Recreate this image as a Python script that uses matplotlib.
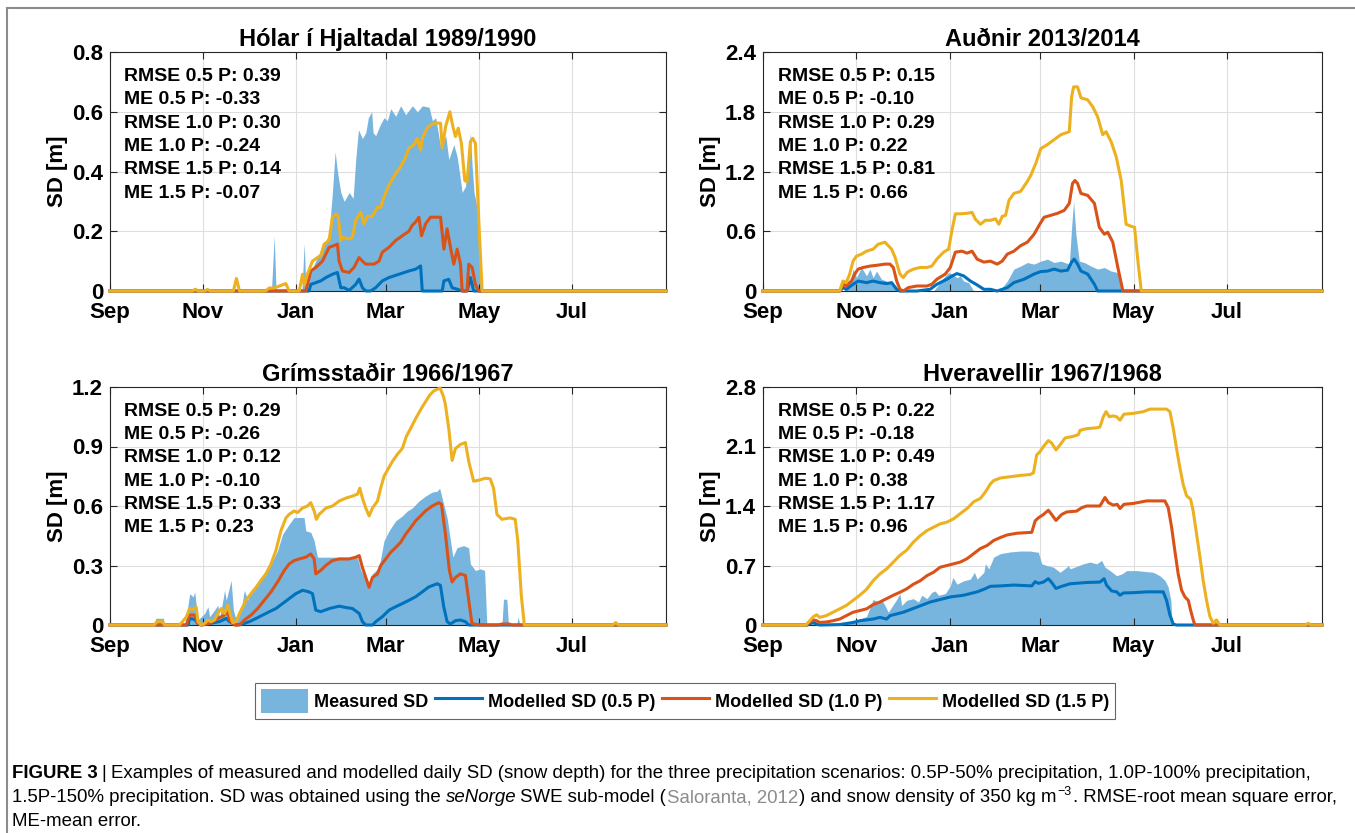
import numpy as np
import matplotlib
matplotlib.use("Agg")
import matplotlib.pyplot as plt
from matplotlib.lines import Line2D
from matplotlib.patches import Patch

plt.rcParams["font.family"] = ["Liberation Sans", "DejaVu Sans"]
plt.rcParams["font.weight"] = "bold"

W, H = 1355, 833
C_MEAS = "#77b5df"; C05 = "#0072bd"; C10 = "#d95319"; C15 = "#edb120"

# x axis = days since 1 Sep
month_days = [0, 61, 122, 181, 242, 303]
month_labels = ["Sep", "Nov", "Jan", "Mar", "May", "Jul"]

# ---------------- Hólar í Hjaltadal 1989/1990  (day, SD m)
holar_meas = [(0,0),(104,0),(106,0),(107.8,0.185),(109,0),(126,0),(127.5,0.16),(128.5,0.02),(131,0.056),
    (135,0.10),(139.5,0.146),(143.8,0.19),(146,0.33),(147.8,0.466),(149.3,0.40),(151.5,0.33),(153.7,0.30),
    (157,0.33),(159.6,0.31),(161.3,0.44),(163.1,0.54),(165.7,0.51),(167.9,0.53),(169.6,0.58),(171.8,0.60),
    (172.7,0.53),(174.4,0.52),(177.7,0.56),(179.9,0.58),(182.1,0.57),(184.3,0.61),(187.6,0.585),(190.8,0.62),
    (194.1,0.59),(198.5,0.62),(201.8,0.60),(205.1,0.62),(209.5,0.615),(211.6,0.57),(213.8,0.58),(217.1,0.48),
    (220.4,0.52),(222.4,0.44),(225.7,0.49),(227.9,0.45),(231.2,0.33),(233.4,0.35),(235.5,0.46),(236.6,0.53),
    (237.7,0.42),(239,0.33),(242.2,0.25),(243.7,0),(365,0)]
holar_05 = [(0,0),(130.7,0),(131.8,0.022),(135.1,0.028),(138.4,0.034),(141.7,0.045),(146,0.056),(149.3,0.062),
    (151.5,0.011),(153.7,0.011),(157,0.002),(161.3,0.022),(163.5,0.04),(165.7,0.011),(167.9,0),(171.1,0),
    (174.4,0.011),(178.8,0.034),(183.1,0.045),(189.7,0.056),(196.2,0.067),(200.6,0.073),(203.9,0.084),(205,0),
    (218.1,0),(219.2,0.034),(222.4,0.039),(224.6,0.011),(227.9,0.006),(231.2,0),(234.4,0),(236.6,0.045),
    (238.8,0),(365,0)]
holar_10 = [(0,0),(128.6,0),(129.6,0.022),(131.8,0.067),(135.1,0.079),(139.5,0.1),(143.8,0.146),(147.1,0.152),
    (149.3,0.157),(150.4,0.10),(152.6,0.067),(157,0.062),(160.2,0.079),(163.5,0.112),(165.7,0.1),(167.9,0.09),
    (173.3,0.09),(176.6,0.1),(178.8,0.13),(183.1,0.146),(187.5,0.169),(191.9,0.185),(196.2,0.2),(198.4,0.22),
    (200.6,0.231),(202.8,0.247),(204.5,0.185),(207.2,0.225),(210.4,0.247),(217,0.247),(219.2,0.14),
    (221.3,0.208),(223.5,0.146),(225.7,0.09),(227.9,0.14),(230.1,0.09),(231.2,0),(234.4,0),(235.5,0.09),
    (237.7,0.079),(239.9,0.022),(242.1,0),(365,0)]
holar_15 = [(0,0),(54,0),(56,0.006),(58,0),(62,0),(64,0.005),(66,0),(81,0),(83,0.042),(85,0),(102,0),
    (104.5,0.01),(107.8,0.01),(115.4,0.025),(117.6,0),(124.2,0),(126.4,0.056),(127.5,0.02),(129.6,0.056),
    (132.9,0.10),(138.4,0.12),(140.6,0.157),(143.8,0.169),(146,0.247),(148.6,0.258),(149.9,0.247),
    (151.5,0.169),(152.6,0.18),(156.9,0.174),(159.1,0.18),(161.3,0.236),(164.6,0.264),(166.8,0.225),
    (169,0.25),(172.2,0.25),(175.5,0.28),(177.7,0.28),(179.9,0.315),(183.1,0.354),(187.5,0.393),
    (190.8,0.416),(194.1,0.449),(196.2,0.478),(199.5,0.489),(201.7,0.511),(203.9,0.472),(205,0.511),
    (208.2,0.545),(210.4,0.556),(213.7,0.562),(217,0.562),(218.1,0.478),(220.3,0.55),(223.1,0.60),
    (225.1,0.55),(226.8,0.517),(228.6,0.545),(230.7,0.494),(232.9,0.37),(234.4,0.365),(236.6,0.50),
    (238.2,0.511),(239.9,0.494),(242.1,0.236),(244.3,0),(365,0)]
holar_stats = ["RMSE 0.5 P: 0.39", "ME 0.5 P: -0.33", "RMSE 1.0 P: 0.30",
               "ME 1.0 P: -0.24", "RMSE 1.5 P: 0.14", "ME 1.5 P: -0.07"]

# ---------------- Auðnir 2013/2014
audnir_meas = [(0,0),(53.3,0),(54.4,0.135),(56.6,0.067),(58.8,0.22),(61,0.135),(64.3,0.236),(67.6,0.152),
    (69.8,0.22),(71.9,0.135),(74.1,0.2),(77.4,0.118),(80.7,0.1),(85.1,0.067),(87.3,0),(111.3,0),
    (115.7,0.084),(117.9,0.135),(121.2,0.185),(123.4,0.169),(126.6,0.135),(128.8,0.152),(131,0.1),
    (134.3,0.084),(137.6,0),(155.1,0),(156.2,0.034),(159.5,0.1),(163.8,0.22),(168.2,0.25),(172.6,0.286),
    (177,0.27),(181.4,0.30),(185.7,0.32),(190.1,0.286),(194.5,0.30),(200,0.27),(201.5,0.64),(202.8,0.9),
    (204.3,0.57),(206.5,0.30),(209.8,0.286),(214.2,0.25),(218.5,0.22),(222.9,0.236),(227.3,0.2),
    (231.7,0.185),(233.9,0),(365,0)]
audnir_05 = [(0,0),(50.1,0),(52.2,0.034),(54.4,0.017),(58.8,0.067),(62.1,0.1),(67.6,0.084),(71.9,0.1),
    (76.3,0.084),(80.7,0.074),(84,0.084),(87.3,0.017),(89.4,0),(100.4,0),(109.1,0.017),(113.5,0.067),
    (120.1,0.118),(123.4,0.15),(126.6,0.175),(131,0.152),(135.4,0.1),(139.8,0.061),(144.2,0.017),
    (148.5,0.017),(152.9,0),(159.5,0.034),(163.8,0.084),(170.4,0.118),(177,0.17),(181.4,0.195),
    (185.7,0.2),(190.1,0.22),(194.5,0.2),(198.9,0.209),(201.5,0.29),(203.2,0.32),(205.4,0.27),
    (207.6,0.2),(212,0.17),(216.4,0.067),(218.5,0),(365,0)]
audnir_10 = [(0,0),(50.1,0),(52.2,0.07),(54.4,0.05),(57.7,0.1),(59.9,0.17),(62.1,0.22),(65.4,0.236),
    (69.8,0.25),(75.2,0.26),(79.6,0.27),(82.9,0.27),(85.1,0.236),(87.3,0.1),(89.4,0.017),(91.6,0),
    (94.9,0.034),(100.4,0.05),(107,0.05),(110.2,0.067),(113.5,0.118),(119,0.17),(122.3,0.236),(125.6,0.39),
    (129.9,0.40),(133.2,0.38),(136.5,0.40),(139.8,0.32),(144.2,0.29),(148.5,0.30),(152.9,0.27),(156.2,0.30),
    (159.5,0.37),(163.8,0.40),(168.2,0.455),(172.6,0.49),(177,0.57),(180.3,0.66),(183.5,0.74),(187.9,0.76),
    (192.3,0.78),(196.7,0.81),(200,0.88),(202.1,1.08),(203.7,1.11),(205.4,1.08),(207.6,0.98),(212,0.96),
    (216.4,0.88),(219.6,0.64),(222.9,0.57),(225.1,0.59),(228.4,0.49),(231.7,0.236),(235,0),(365,0)]
audnir_15 = [(0,0),(50.1,0),(52.2,0.1),(54.4,0.085),(56.6,0.17),(58.8,0.3),(61,0.35),(64.3,0.37),(67.6,0.40),
    (71.9,0.42),(75.2,0.47),(79.6,0.49),(81.8,0.455),(84,0.42),(86.2,0.34),(89.4,0.17),(91.6,0.135),
    (94.3,0.19),(98.2,0.22),(102.6,0.236),(107,0.236),(110.2,0.25),(113.5,0.32),(117.9,0.39),(121.2,0.42),
    (123.4,0.61),(125.6,0.775),(128.8,0.775),(133.2,0.78),(136.5,0.79),(138.7,0.72),(142,0.67),(145.2,0.71),
    (148.5,0.71),(151.8,0.725),(154,0.67),(156.2,0.75),(158.4,0.76),(160.6,0.91),(163.8,0.98),(168.2,1.0),
    (172.6,1.1),(174.8,1.16),(178.1,1.28),(181.4,1.43),(185.7,1.47),(190.1,1.52),(194.5,1.57),(200,1.6),
    (201.5,1.95),(202.8,2.05),(205.4,2.05),(207.6,1.94),(212,1.92),(215.3,1.85),(218.5,1.75),(221.8,1.57),
    (224,1.6),(227.3,1.5),(230.6,1.35),(233.9,1.11),(237.1,0.67),(240.4,0.65),(242.6,0.64),(244.8,0.30),
    (247,0),(365,0)]
audnir_stats = ["RMSE 0.5 P: 0.15", "ME 0.5 P: -0.10", "RMSE 1.0 P: 0.29",
                "ME 1.0 P: 0.22", "RMSE 1.5 P: 0.81", "ME 1.5 P: 0.66"]

# ---------------- Grímsstaðir 1966/1967
grims_meas = [(0,0),(29,0),(30,0.034),(35,0.034),(36,0),(49,0),(50.1,0.042),(52.3,0.158),(54.5,0.142),
    (55.6,0.167),(57.7,0.025),(59.9,0.042),(62.1,0.058),(64.3,0.092),(65.4,0.042),(68.6,0.075),(70.8,0.1),
    (71.9,0.033),(74.1,0.125),(75.2,0.175),(76.3,0.125),(78.4,0.19),(79.5,0.225),(81,0.075),(82.8,0.025),
    (86.1,0.075),(88.2,0.175),(90.4,0.125),(92.6,0.175),(94.8,0.19),(98,0.225),(102.4,0.275),(106.8,0.325),
    (110,0.375),(113.3,0.458),(117.6,0.508),(120.9,0.542),(124.2,0.542),(127.4,0.542),(128.5,0.475),
    (131.8,0.467),(134,0.425),(136.2,0.342),(139.4,0.342),(150.5,0.342),(159.2,0.342),(162.5,0.338),
    (164.7,0.275),(167.9,0.225),(170.1,0.217),(172.3,0.258),(176.6,0.29),(179.9,0.425),(183.2,0.475),
    (187.5,0.525),(191.9,0.55),(195.2,0.575),(198.4,0.59),(202.8,0.625),(207.1,0.65),(211.5,0.67),
    (214.8,0.675),(216.4,0.69),(218.5,0.625),(221.3,0.54),(225.1,0.342),(227.8,0.39),(232.1,0.4),
    (235.4,0.39),(236.6,0.308),(239.8,0.275),(243.1,0.283),(245.9,0.275),(247.4,0),(257.3,0),(258.3,0.13),
    (260.5,0.13),(261.6,0),(267,0),(268,0.04),(269,0),(365,0)]
grims_05 = [(0,0),(51.2,0),(52.3,0.033),(55.6,0.028),(57.7,0.008),(60,0),(71.9,0.017),(76.3,0.033),
    (78.4,0.017),(82.8,0),(87.1,0.005),(91.5,0.017),(95.9,0.033),(100.2,0.05),(104.6,0.067),(108.9,0.083),
    (113.3,0.108),(117.6,0.133),(122,0.158),(126.4,0.175),(130.7,0.167),(132.9,0.158),(135.1,0.075),
    (138.3,0.067),(144,0.083),(150.5,0.095),(154.9,0.088),(159.2,0.083),(163.6,0.058),(165.7,0.017),
    (167.9,0),(172.3,0),(174.5,0.017),(178.8,0.042),(183.2,0.075),(187.5,0.092),(191.9,0.108),(196.3,0.125),
    (200.6,0.142),(205,0.167),(209.3,0.192),(214.8,0.208),(216.9,0.2),(219.1,0.092),(221.3,0.017),
    (223.5,0.005),(226.8,0.022),(230,0.025),(233.3,0.017),(235.5,0),(365,0)]
grims_10 = [(0,0),(50.1,0),(52.3,0.05),(55.6,0.05),(57.7,0.008),(59.9,0),(65.4,0.008),(70.8,0.033),
    (74.1,0.045),(77.3,0.067),(78.4,0.025),(81.7,0),(85,0),(88.2,0.025),(92.6,0.05),(96.9,0.083),
    (101.3,0.125),(105.7,0.167),(110,0.217),(114.4,0.275),(117.6,0.308),(120.9,0.325),(124.2,0.333),
    (128.5,0.342),(131.8,0.358),(134,0.333),(135.1,0.258),(138.3,0.275),(141.6,0.3),(146.1,0.325),
    (150.5,0.333),(157,0.333),(161.4,0.342),(163.6,0.35),(165.7,0.29),(167.9,0.24),(170.1,0.19),
    (172.3,0.24),(175.6,0.258),(177.7,0.3),(181,0.333),(184.3,0.367),(187.5,0.39),(190.8,0.417),
    (194.1,0.458),(197.3,0.49),(200.6,0.525),(203.9,0.55),(207.1,0.575),(211.5,0.6),(215.9,0.617),
    (217.6,0.608),(220.2,0.458),(222.8,0.275),(224.6,0.217),(226.8,0.24),(230,0.258),(233.3,0.25),
    (235.5,0.125),(237.6,0.008),(242,0),(255,0),(257.3,0.005),(262,0.005),(264,0),(365,0)]
grims_15 = [(0,0),(29,0),(31,0.017),(34,0.017),(36,0),(45.7,0),(50.1,0.04),(52.3,0.083),(54.5,0.078),
    (56.6,0.09),(57.7,0.017),(59.9,0),(62.1,0.008),(64.3,0.025),(66.4,0.017),(68.6,0.025),(70.8,0.058),
    (73,0.083),(75.2,0.058),(77.3,0.1),(78.4,0.067),(80.6,0.012),(82.8,0.017),(85,0.058),(87.1,0.09),
    (89.3,0.125),(92.6,0.158),(95.9,0.19),(99.1,0.225),(102.4,0.258),(105.7,0.308),(108.9,0.375),
    (112.2,0.475),(115.5,0.54),(117.6,0.558),(120.9,0.575),(123.1,0.567),(126.4,0.59),(129.6,0.6),
    (131.8,0.617),(134,0.575),(135.5,0.533),(137.3,0.558),(141.8,0.59),(146.1,0.6),(150.5,0.625),
    (154.9,0.64),(159.2,0.65),(162.5,0.66),(164,0.69),(165.7,0.64),(167.9,0.59),(170.1,0.55),(172.3,0.59),
    (175.6,0.625),(177.7,0.69),(179.9,0.75),(182.1,0.78),(185.4,0.825),(188.6,0.86),(191.9,0.89),
    (194.5,0.95),(197.3,0.99),(200.6,1.04),(202.8,1.07),(205,1.1),(207.1,1.125),(210,1.16),(212.5,1.18),
    (216.7,1.195),(219,1.15),(220.2,1.11),(222.4,0.99),(224.6,0.83),(226.8,0.89),(230,0.91),(233.3,0.92),
    (235.5,0.825),(238.7,0.725),(242,0.73),(246.4,0.74),(249.6,0.737),(251.8,0.69),(254,0.558),
    (257.3,0.533),(262.7,0.54),(266,0.533),(267.7,0.425),(270,0.15),(272,0),(330,0),(332,0.012),(334,0),
    (365,0)]
grims_stats = ["RMSE 0.5 P: 0.29", "ME 0.5 P: -0.26", "RMSE 1.0 P: 0.12",
               "ME 1.0 P: -0.10", "RMSE 1.5 P: 0.33", "ME 1.5 P: 0.23"]

# ---------------- Hveravellir 1967/1968
hvera_meas = [(0,0),(30,0),(31,0.03),(34,0.03),(35,0),(50,0),(58.8,0.04),(67.6,0.1),(71.9,0.3),(75.2,0.27),
    (77.4,0.3),(79.6,0.23),(81.8,0.15),(84,0.21),(87.3,0.3),(89.4,0.37),(90.5,0.23),(93.8,0.29),(98.2,0.31),
    (101.5,0.27),(103.7,0.35),(107,0.31),(110.2,0.385),(112.4,0.4),(114.6,0.35),(119,0.37),(122.3,0.46),
    (124,0.56),(126.6,0.48),(131,0.52),(135.4,0.54),(138,0.62),(139.8,0.54),(144.2,0.62),(145.2,0.72),
    (147.4,0.66),(150.7,0.8),(155.1,0.84),(161.6,0.86),(168.2,0.87),(174.4,0.87),(179.8,0.855),(182,0.72),
    (185.3,0.7),(189.6,0.68),(194,0.62),(198.3,0.68),(199.4,0.7),(200.5,0.66),(204.8,0.69),(209.2,0.72),
    (213.5,0.74),(217.9,0.72),(221.1,0.76),(223.3,0.68),(226.6,0.64),(230.9,0.58),(234.2,0.6),(237.4,0.64),
    (243.9,0.64),(249.3,0.63),(254.8,0.62),(259.1,0.58),(262.4,0.525),(264.5,0.45),(266.3,0.29),(267.1,0),
    (365,0)]
hvera_05 = [(0,0),(29,0),(31,0.02),(33,0.03),(35,0.01),(37,0),(50,0.005),(58.8,0.03),(63.2,0.05),(67.6,0.06),
    (71.9,0.07),(76.3,0.09),(80.7,0.07),(82.9,0.11),(87.3,0.13),(91.6,0.15),(96,0.18),(100.4,0.21),
    (104.8,0.24),(109.1,0.27),(113.5,0.29),(117.9,0.31),(122.3,0.33),(126.6,0.34),(131,0.35),(135.4,0.37),
    (139.8,0.39),(144.2,0.42),(148.5,0.455),(155.1,0.46),(163.8,0.47),(175.5,0.46),(177.7,0.51),
    (179.8,0.49),(183.1,0.505),(186.3,0.545),(188.5,0.5),(191.3,0.43),(195,0.455),(200.5,0.485),
    (211.3,0.5),(220,0.505),(222.7,0.545),(224.4,0.467),(227.7,0.4),(230.9,0.39),(233.1,0.35),(235.3,0.377),
    (241.8,0.38),(250.5,0.39),(261.3,0.39),(263.5,0.29),(265.7,0.117),(267.9,0.01),(270,0),(365,0)]
hvera_10 = [(0,0),(28,0),(30,0.03),(33,0.06),(35,0.05),(37,0.03),(41.3,0.035),(45.7,0.05),(50.1,0.07),
    (54.4,0.11),(58.8,0.15),(63.2,0.17),(67.6,0.19),(71.9,0.24),(76.3,0.27),(80.7,0.31),(85.1,0.35),
    (89.4,0.385),(93.8,0.425),(98.2,0.48),(102.6,0.52),(107,0.58),(111.3,0.62),(115.7,0.68),(120.1,0.7),
    (124.5,0.72),(128.8,0.74),(133.2,0.78),(137.6,0.84),(142,0.9),(146.3,0.935),(150.7,0.995),(155.1,1.03),
    (159.5,1.06),(166,1.08),(175.5,1.09),(177.7,1.225),(179.8,1.26),(183.1,1.3),(186.3,1.35),(188.5,1.3),
    (191.3,1.23),(195,1.3),(198.3,1.33),(204.8,1.34),(208.1,1.38),(211.3,1.4),(220,1.4),(223.3,1.5),
    (225.5,1.44),(228.7,1.41),(231.3,1.42),(233.1,1.37),(235.7,1.42),(241.8,1.43),(250.5,1.46),
    (262.4,1.46),(264.6,1.38),(266.8,1.15),(268.9,0.875),(271.1,0.6),(273.3,0.41),(275.5,0.33),
    (277.7,0.29),(279.2,0.175),(280.9,0.06),(282,0),(365,0)]
hvera_15 = [(0,0),(28,0),(30,0.04),(33,0.1),(35,0.12),(37,0.09),(41.3,0.11),(45.7,0.15),(50.1,0.19),
    (54.4,0.23),(58.8,0.29),(63.2,0.35),(67.6,0.42),(71.9,0.52),(76.3,0.6),(80.7,0.66),(85.1,0.74),
    (89.4,0.82),(93.8,0.88),(98.2,0.975),(102.6,1.05),(107,1.11),(111.3,1.15),(115.7,1.19),(120.1,1.21),
    (124.5,1.25),(128.8,1.31),(133.2,1.37),(137.6,1.45),(142,1.49),(145.2,1.565),(148.5,1.66),(150.7,1.7),
    (155.1,1.73),(159.5,1.74),(163.8,1.75),(168.2,1.76),(174.4,1.77),(176.6,1.79),(178.7,2.0),(180.9,2.04),
    (183.1,2.1),(186.3,2.17),(188.5,2.14),(191.3,2.06),(194,2.12),(197.2,2.2),(202.7,2.22),(205.9,2.24),
    (207,2.29),(211.3,2.31),(217.9,2.32),(220,2.33),(222.2,2.45),(224,2.51),(226.1,2.45),(228.7,2.46),
    (230.9,2.45),(233.1,2.41),(235.7,2.48),(241.8,2.49),(248.3,2.51),(252.7,2.54),(263.5,2.54),
    (265.7,2.51),(267.9,2.31),(270,2.08),(272.2,1.85),(274.4,1.65),(276.6,1.52),(279.2,1.48),(280.9,1.34),
    (283.1,1.07),(285.3,0.8),(287.4,0.525),(289.6,0.29),(291.8,0.1),(294,0.02),(296.1,0.06),(298.3,0),
    (354,0),(356,0.02),(358,0),(365,0)]
hvera_stats = ["RMSE 0.5 P: 0.22", "ME 0.5 P: -0.18", "RMSE 1.0 P: 0.49",
               "ME 1.0 P: 0.38", "RMSE 1.5 P: 1.17", "ME 1.5 P: 0.96"]

panels = [
    ("Hólar í Hjaltadal 1989/1990", 0.8, 0.2, holar_meas, holar_05, holar_10, holar_15, holar_stats,
     [110, 291, 556, 239]),
    ("Auðnir 2013/2014", 2.4, 0.6, audnir_meas, audnir_05, audnir_10, audnir_15, audnir_stats,
     [763, 291, 559, 239]),
    ("Grímsstaðir 1966/1967", 1.2, 0.3, grims_meas, grims_05, grims_10, grims_15, grims_stats,
     [110, 625, 556, 238]),
    ("Hveravellir 1967/1968", 2.8, 0.7, hvera_meas, hvera_05, hvera_10, hvera_15, hvera_stats,
     [763, 625, 559, 238]),
]

fig = plt.figure(figsize=(W / 100, H / 100), dpi=100)

for title, ymax, ystep, meas, s05, s10, s15, stats, (lx, by, w, h) in panels:
    ax = fig.add_axes([lx / W, 1 - by / H, w / W, h / H])
    ax.set_xlim(0, 365); ax.set_ylim(0, ymax)
    yt = np.arange(0, ymax + ystep / 2, ystep)
    # hand-made grid so the fill covers it but ticks stay on top
    for v in yt[1:-1]:
        ax.axhline(v, color="#dedede", lw=0.8, zorder=0.1)
    for d in month_days[1:]:
        ax.axvline(d, color="#dedede", lw=0.8, zorder=0.1)
    md, mv = np.array(meas).T
    ax.fill_between(md, mv, color=C_MEAS, lw=0, zorder=1)
    for ser, col in [(s05, C05), (s10, C10), (s15, C15)]:
        dd, vv = np.array(ser).T
        ax.plot(dd, vv, color=col, lw=2.2, zorder=3, clip_on=False, solid_joinstyle="round")
    ax.set_yticks(yt)
    ax.set_yticklabels(["0" if v == 0 else f"{v:.1f}" for v in yt])
    ax.set_xticks(month_days); ax.set_xticklabels(month_labels)
    ax.tick_params(direction="in", length=5, width=0.8, top=True, right=True,
                   labelsize=16, pad=5, color="#262626")
    ax.tick_params(axis="x", pad=8)
    for sp in ax.spines.values():
        sp.set_color("#262626"); sp.set_linewidth(0.8)
    ax.set_title(title, fontsize=17, fontweight="bold", pad=4)
    ax.set_ylabel("SD [m]", fontsize=16, fontweight="bold", labelpad=3)
    for i, s in enumerate(stats):
        ax.text(0.026, 0.897 - i * 0.0975, s, transform=ax.transAxes, fontsize=14,
                fontweight="bold", va="center", ha="left", zorder=5)

handles = [Patch(facecolor=C_MEAS, edgecolor="none"),
           Line2D([], [], color=C05, lw=2.2), Line2D([], [], color=C10, lw=2.2),
           Line2D([], [], color=C15, lw=2.2)]
labels = ["Measured SD", "Modelled SD (0.5 P)", "Modelled SD (1.0 P)", "Modelled SD (1.5 P)"]
leg = fig.legend(handles, labels, loc="center", bbox_to_anchor=(685 / W, 1 - 701 / H), ncol=4,
                 fancybox=False, edgecolor="#666666", framealpha=1,
                 prop={"weight": "bold", "size": 13}, handlelength=2.6, handleheight=1.6,
                 handletextpad=0.35, columnspacing=0.35, borderpad=0.35, borderaxespad=0)
leg.get_frame().set_linewidth(0.8)

# outer frame of the figure panel
fig.add_artist(Line2D([7 / W, 7 / W], [0, 1 - 8 / H], color="#8c8c8c", lw=1.5))
fig.add_artist(Line2D([7 / W, 1], [1 - 8 / H, 1 - 8 / H], color="#8c8c8c", lw=1.5))

# caption, drawn run by run
renderer = fig.canvas.get_renderer()
CAP = 13.4


def caption_line(y_px, parts):
    x = 12
    for s, kw, gap in parts:
        kw = dict(kw)
        dy = kw.pop("dy", 0)
        t = fig.text(x / W, 1 - (y_px - dy) / H, s, va="center", ha="left",
                     fontsize=kw.pop("size", CAP), fontweight=kw.pop("weight", "normal"), **kw)
        x += t.get_window_extent(renderer).width + gap


sp = 4
caption_line(773, [("FIGURE 3", {"weight": "bold"}, sp), ("|", {}, sp),
                   ("Examples of measured and modelled daily SD (snow depth) for the three precipitation "
                    "scenarios: 0.5P-50% precipitation, 1.0P-100% precipitation,", {}, 0)])
caption_line(798, [("1.5P-150% precipitation. SD was obtained using the", {}, sp + 1),
                   ("seNorge", {"style": "italic"}, sp),
                   ("SWE sub-model (", {}, 1),
                   ("Saloranta, 2012", {"color": "#8c8c8c"}, 1),
                   (") and snow density of 350 kg m", {}, 1),
                   ("\u22123", {"size": 9, "dy": 6}, 1),
                   (". RMSE-root mean square error,", {}, 0)])
caption_line(822, [("ME-mean error.", {}, 0)])

fig.savefig("out.png", dpi=100)
